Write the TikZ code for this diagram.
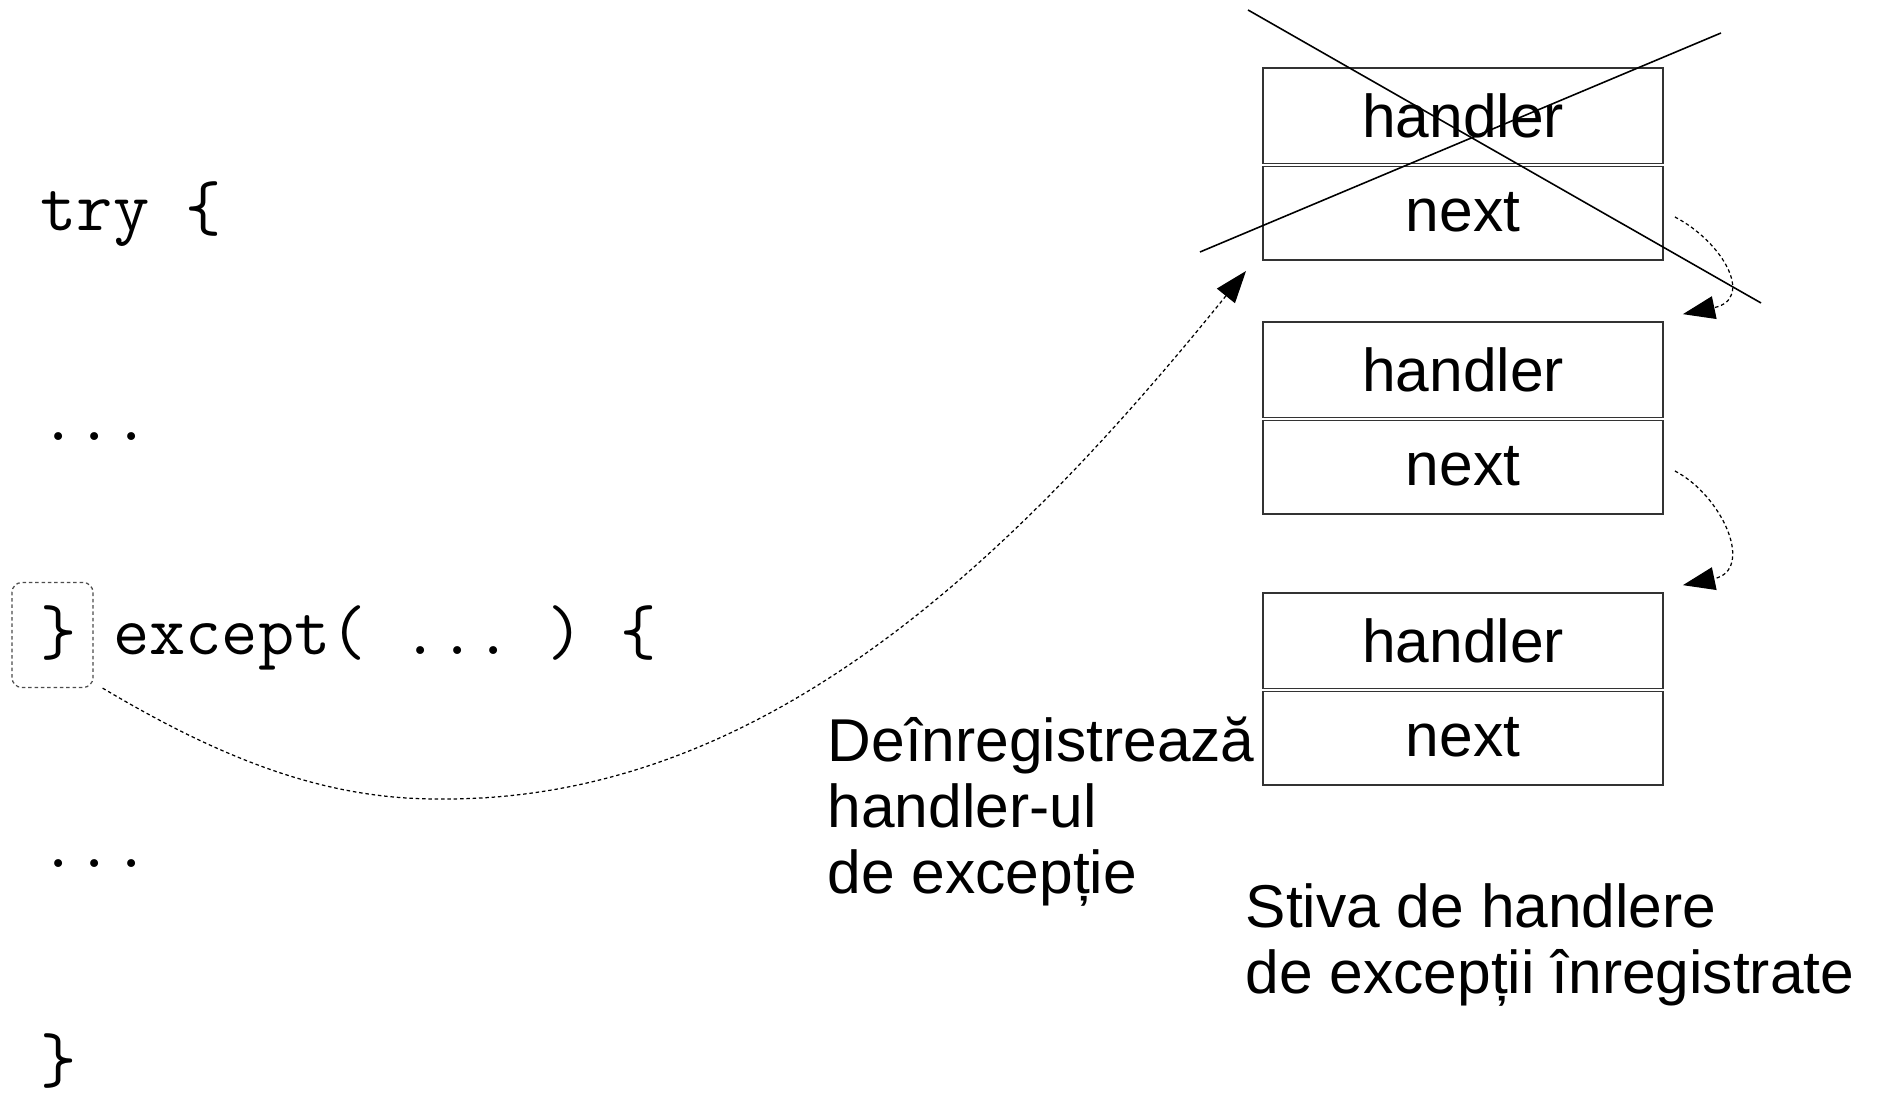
\documentclass[tikz,border=0pt]{standalone}
\usepackage{fontspec}
\setmainfont{Liberation Sans}
\usetikzlibrary{arrows.meta}

\begin{document}
\begin{tikzpicture}[x=0.01cm, y=-0.01cm, >={Triangle[length=0.32cm, width=0.23cm]},
		cell/.style={draw=black!80, line width=0.45pt, minimum width=4cm, minimum height=0.96cm, inner sep=0pt, font=\fontsize{17.2}{20}\selectfont},
		divider/.style={draw=black!80, double=white, double distance=0.5pt, line width=0.35pt},
		codeline/.style={anchor=base west, inner sep=0pt, font=\fontsize{20}{22}\ttfamily\frenchspacing},
		note/.style={anchor=base west, inner sep=0pt, align=left, font=\fontsize{17.2}{18.9}\selectfont},
		hop/.style={->, dash pattern=on 1pt off 0.8pt, line width=0.35pt}]
		\useasboundingbox (0, 0) rectangle (1878, 1095);

		\node[codeline] (try) at (40, 231) {try \{};
		\node[codeline] (dots1) at (40, 441) {...};
		\node[codeline] (except) at (40, 655) {\} except( ... ) \{};
		\node[codeline] (dots2) at (40, 868) {...};
		\node[codeline] (close) at (40, 1083) {\}};
		\node[draw=black!70, dash pattern=on 1pt off 0.8pt, line width=0.35pt, rounded corners=0.1cm, minimum width=0.81cm, minimum height=1.05cm] (brace) at (52.5, 635) {};

		\node[cell] (h1) at (1463, 116) {handler};
		\node[cell] (n1) at (1463, 212) {next};
		\node[cell] (h2) at (1463, 370) {handler};
		\node[cell] (n2) at (1463, 466) {next};
		\node[cell] (h3) at (1463, 641) {handler};
		\node[cell] (n3) at (1463, 737) {next};
		\draw[divider] (h1.south west) -- (h1.south east);
		\draw[divider] (h2.south west) -- (h2.south east);
		\draw[divider] (h3.south west) -- (h3.south east);

		% the first handler is struck out
		\draw[line width=0.45pt] (1248, 10) -- (1761, 303);
		\draw[line width=0.45pt] (1200, 252) -- (1721, 33);

		% base of a multi-line note is its last line
		\node[note] (unreg) at (827, 894) {Deînregistrează\\handler-ul\\de excepție};
		\node[note] (stack) at (1245, 994) {Stiva de handlere\\de excepții înregistrate};

		\coordinate (tip1) at ([xshift=0.19cm, yshift=0.07cm]h2.north east);
		\coordinate (tip2) at ([xshift=0.19cm, yshift=0.07cm]h3.north east);
		\coordinate (tip0) at (1246, 271);

		\draw[hop] ([xshift=0.11cm, yshift=-0.05cm]n1.east) .. controls +(48, 25) and +(72, -15) .. (tip1);
		\draw[hop] ([xshift=0.11cm, yshift=-0.05cm]n2.east) .. controls +(48, 25) and +(72, -15) .. (tip2);
		\draw[hop] ([xshift=0.09cm]brace.south east) .. controls (240, 770) and (340, 800) .. (443, 799)
			.. controls (760, 800) and (1007, 567) .. (tip0);
	\end{tikzpicture}
\end{document}
